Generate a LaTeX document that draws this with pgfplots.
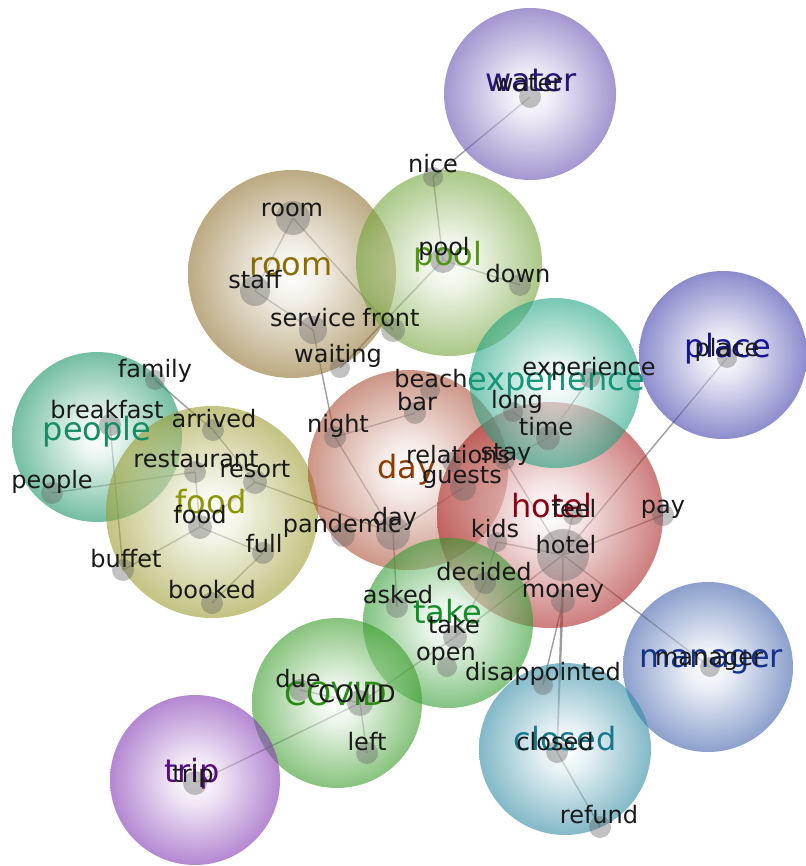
\documentclass[border=0pt]{standalone}
\usepackage{pgfplots}
\pgfplotsset{compat=1.18}
\usepackage{fontspec}
\setmainfont{DejaVu Sans}

\definecolor{cwater}{RGB}{105,80,177}
\definecolor{cpool}{RGB}{113,163,55}
\definecolor{croom}{RGB}{143,113,47}
\definecolor{cexp}{RGB}{30,163,130}
\definecolor{cplace}{RGB}{63,63,172}
\definecolor{cpeople}{RGB}{22,147,97}
\definecolor{cfood}{RGB}{155,155,47}
\definecolor{cday}{RGB}{172,80,55}
\definecolor{chotel}{RGB}{172,38,38}
\definecolor{ctake}{RGB}{47,155,47}
\definecolor{ccovid}{RGB}{55,155,38}
\definecolor{cmanager}{RGB}{63,97,172}
\definecolor{cclosed}{RGB}{47,138,163}
\definecolor{ctrip}{RGB}{130,55,180}

\definecolor{lwater}{RGB}{40,20,120}
\definecolor{lpool}{RGB}{80,150,20}
\definecolor{lroom}{RGB}{140,110,0}
\definecolor{lexp}{RGB}{20,150,120}
\definecolor{lplace}{RGB}{20,20,150}
\definecolor{lpeople}{RGB}{20,140,100}
\definecolor{lfood}{RGB}{140,150,0}
\definecolor{lday}{RGB}{140,60,0}
\definecolor{lhotel}{RGB}{140,0,20}
\definecolor{ltake}{RGB}{20,140,40}
\definecolor{lcovid}{RGB}{40,140,20}
\definecolor{lmanager}{RGB}{20,50,140}
\definecolor{lclosed}{RGB}{20,120,140}
\definecolor{ltrip}{RGB}{90,10,130}

\newcommand\mkshade[2]{\pgfdeclareradialshading{#1}{\pgfpoint{0bp}{0bp}}{color(0bp)=(white); color(7bp)=(#2!20!white); color(16bp)=(#2!60!white); color(25bp)=(#2); color(50bp)=(#2)}}
\mkshade{sh-water}{cwater}
\mkshade{sh-pool}{cpool}
\mkshade{sh-room}{croom}
\mkshade{sh-exp}{cexp}
\mkshade{sh-place}{cplace}
\mkshade{sh-people}{cpeople}
\mkshade{sh-food}{cfood}
\mkshade{sh-day}{cday}
\mkshade{sh-hotel}{chotel}
\mkshade{sh-take}{ctake}
\mkshade{sh-covid}{ccovid}
\mkshade{sh-manager}{cmanager}
\mkshade{sh-closed}{cclosed}
\mkshade{sh-trip}{ctrip}

\pgfplotsset{
  bubble/.style 2 args={draw=none, mark=none, nodes near coords={},
    nodes near coords align={anchor=center},
    every node near coord/.append style={circle, inner sep=0pt, minimum size=#2,
      shade, shading=#1, fill opacity=0.6, draw=none, anchor=center}},
  biglabel/.style={draw=none, mark=none, point meta=explicit symbolic, nodes near coords,
    nodes near coords align={anchor=base},
    every node near coord/.append style={font=\fontsize{16}{16}\selectfont, text=#1, inner sep=0pt, anchor=base}},
}

\begin{document}
\begin{tikzpicture}
\begin{axis}[x=0.5pt, y=0.5pt, y dir=reverse, xmin=0, xmax=806, ymin=0, ymax=866,
  hide axis, clip=false]

% bubbles (centre x, y in px; diameter in pt = radius in px)
\addplot[bubble={sh-water}{86pt}]   coordinates {(530,94)};
\addplot[bubble={sh-room}{104pt}]   coordinates {(292,274)};
\addplot[bubble={sh-pool}{93pt}]    coordinates {(449,263)};
\addplot[bubble={sh-place}{84pt}]   coordinates {(723,355)};
\addplot[bubble={sh-people}{85pt}]  coordinates {(97,437)};
\addplot[bubble={sh-food}{106pt}]   coordinates {(212,512)};
\addplot[bubble={sh-day}{100pt}]    coordinates {(408,470)};
\addplot[bubble={sh-hotel}{113pt}]  coordinates {(550,515)};
\addplot[bubble={sh-exp}{85pt}]     coordinates {(555,383)};
\addplot[bubble={sh-take}{85pt}]    coordinates {(448,623)};
\addplot[bubble={sh-covid}{85pt}]   coordinates {(337,703)};
\addplot[bubble={sh-manager}{85pt}] coordinates {(708,667)};
\addplot[bubble={sh-closed}{86pt}]  coordinates {(565,749)};
\addplot[bubble={sh-trip}{85pt}]    coordinates {(195,780)};

% edges
\addplot[black!55, line width=0.7pt, opacity=0.7, mark=none, unbounded coords=jump] coordinates {
(530,97) (433,177) (nan,nan)
(433,177) (443,260) (nan,nan)
(443,260) (520,285) (nan,nan)
(443,260) (340,368) (nan,nan)
(293,218) (255,291) (nan,nan)
(293,218) (393,330) (nan,nan)
(255,291) (313,330) (nan,nan)
(313,330) (335,437) (nan,nan)
(335,437) (415,413) (nan,nan)
(335,437) (393,533) (nan,nan)
(155,380) (213,430) (nan,nan)
(213,430) (255,482) (nan,nan)
(110,425) (123,570) (nan,nan)
(52,493) (195,472) (nan,nan)
(195,472) (200,527) (nan,nan)
(255,482) (200,527) (nan,nan)
(200,527) (263,553) (nan,nan)
(200,527) (123,570) (nan,nan)
(263,553) (212,603) (nan,nan)
(255,482) (393,533) (nan,nan)
(393,533) (397,607) (nan,nan)
(393,533) (463,488) (nan,nan)
(513,412) (548,438) (nan,nan)
(548,438) (590,378) (nan,nan)
(548,438) (505,460) (nan,nan)
(505,460) (563,555) (nan,nan)
(727,358) (563,555) (nan,nan)
(563,555) (663,515) (nan,nan)
(563,555) (497,542) (nan,nan)
(563,555) (573,515) (nan,nan)
(563,555) (455,637) (nan,nan)
(563,555) (563,601) (nan,nan)
(563,555) (710,667) (nan,nan)
(563,555) (557,752) (nan,nan)
(563,601) (543,685) (nan,nan)
(563,601) (557,752) (nan,nan)
(557,752) (600,827) (nan,nan)
(485,583) (497,542) (nan,nan)
(485,583) (455,637) (nan,nan)
(195,783) (360,703) (nan,nan)
(360,703) (367,753) (nan,nan)
(360,703) (455,637) (nan,nan)
(360,703) (300,690)
};

% word dots (radius in pt)
\addplot[scatter, only marks, mark=*,
  scatter/use mapped color={draw=black!60, fill=black!60},
  mark options={fill opacity=0.4, draw opacity=0},
  visualization depends on={\thisrow{r}\as\rr},
  scatter/@pre marker code/.append style={/tikz/mark size=\rr}]
table {
x y r
530 97 5.5
433 177 5
443 260 6.5
520 285 5.5
293 218 8.5
255 291 7.5
313 330 7
393 330 6
340 368 5
590 378 5
727 358 5
155 380 5
110 425 5.5
213 430 5.5
430 390 5
415 413 5.5
335 437 5.5
513 412 5
548 438 6
452 462 5
505 460 5
463 488 6.5
195 472 5.5
255 482 6
52 493 5.5
200 527 6
263 553 5.5
343 535 6
393 533 8.5
497 542 5
573 515 5
663 515 5.5
563 555 13
123 570 5.5
212 603 5.5
485 583 5.5
563 601 6
397 607 5.5
455 637 6
447 667 5
543 685 5
710 667 5
300 690 5.5
360 703 6.5
367 753 5.5
557 752 5.5
195 783 6
600 827 5.5
};

% topic labels
\addplot[biglabel=lwater]   coordinates {(531,92) [water]};
\addplot[biglabel=lpool]    coordinates {(448,265) [pool]};
\addplot[biglabel=lroom]    coordinates {(291,275) [room]};
\addplot[biglabel=lexp]     coordinates {(556,390) [experience]};
\addplot[biglabel=lplace]   coordinates {(728,357) [place]};
\addplot[biglabel=lpeople]  coordinates {(97,440) [people]};
\addplot[biglabel=lfood]    coordinates {(211,513) [food]};
\addplot[biglabel=lday]     coordinates {(407,478) [day]};
\addplot[biglabel=lhotel]   coordinates {(552,517) [hotel]};
\addplot[biglabel=ltake]    coordinates {(448,623) [take]};
\addplot[biglabel=lcovid]   coordinates {(336,705) [COVID]};
\addplot[biglabel=lmanager] coordinates {(711,667) [manager]};
\addplot[biglabel=lclosed]  coordinates {(565,750) [closed]};
\addplot[biglabel=ltrip]    coordinates {(192,782) [trip]};

% word labels
\addplot[draw=none, mark=none, point meta=explicit symbolic, nodes near coords,
  nodes near coords align={anchor=base},
  every node near coord/.append style={font=\fontsize{12}{12}\selectfont, text=black!90, inner sep=0pt, anchor=base}]
table[meta=label] {
x y label
528 92 water
433 173 nice
444 255 pool
518 282 down
292 216 room
255 288 staff
313 326 service
391 326 front
338 362 waiting
589 375 experience
727 356 place
155 377 family
107 418 breakfast
214 427 arrived
431 387 beach
417 410 bar
338 432 night
517 408 long
546 435 time
458 463 relations
506 460 stay
462 483 guests
196 467 restaurant
255 477 resort
52 488 people
200 523 food
264 552 full
342 532 pandemic
395 525 day
495 537 kids
574 517 feel
663 513 pay
566 553 hotel
126 567 buffet
212 598 booked
484 580 decided
563 597 money
398 603 asked
454 633 take
446 660 open
543 680 disappointed
709 665 manager
298 687 due
357 702 COVID
367 750 left
555 750 closed
193 782 trip
599 823 refund
};
\end{axis}
\pgfresetboundingbox
\useasboundingbox (current axis.south west) rectangle (current axis.north east);
\end{tikzpicture}
\end{document}
